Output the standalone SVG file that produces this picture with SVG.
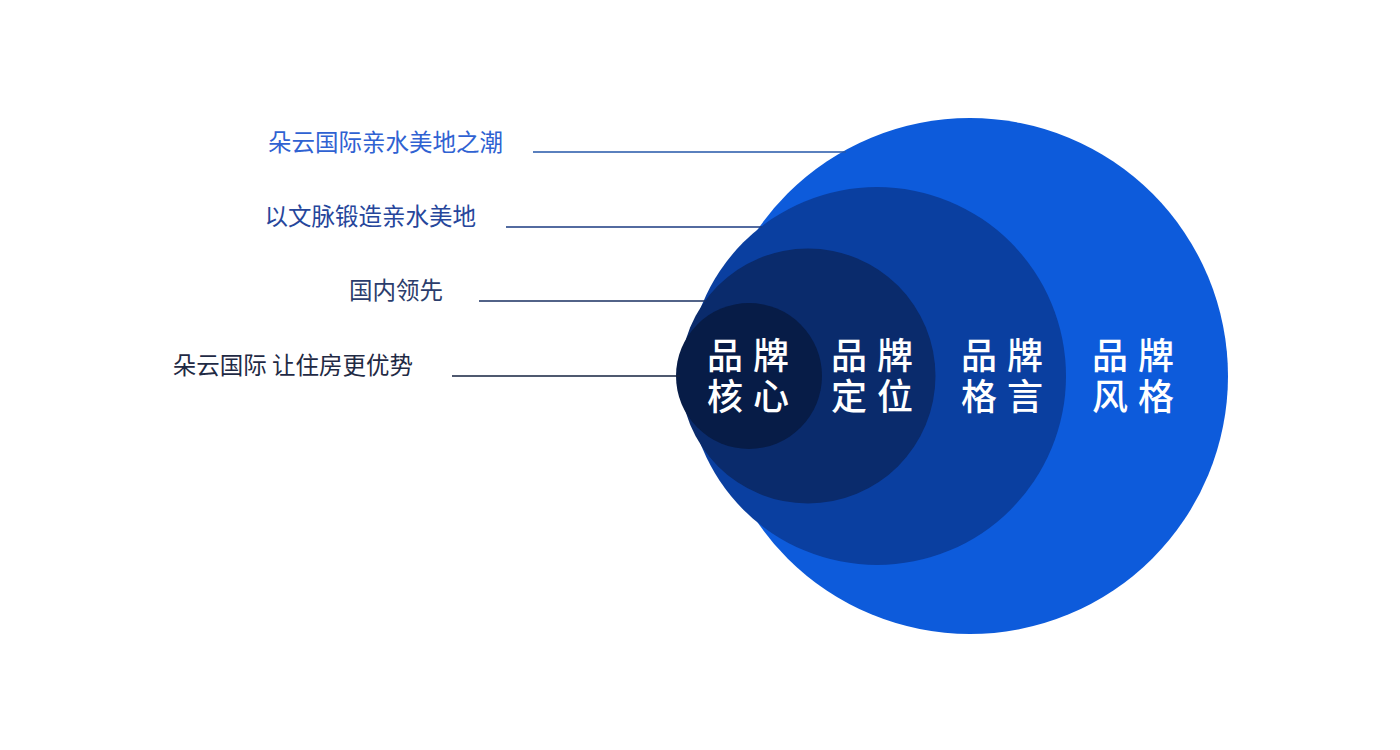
<svg xmlns="http://www.w3.org/2000/svg" width="1400" height="750" viewBox="0 0 1400 750">
<style>
.lbl{font-family:"Noto Sans CJK SC","Noto Sans",sans-serif;font-size:23.5px;text-anchor:end}
.in{font-family:"Noto Sans CJK SC","Noto Sans",sans-serif;font-size:36px;font-weight:500;fill:#ffffff;text-anchor:middle;letter-spacing:10px}
</style>
<rect width="1400" height="750" fill="#ffffff"/>
<g id="circles">
<g id="n-style"><circle cx="970" cy="376" r="258" fill="#0d5bdb"/></g>
<g id="n-slogan"><circle cx="877" cy="376" r="189" fill="#0a3fa0"/></g>
<g id="n-position"><circle cx="808" cy="376" r="127.5" fill="#0a2b6c"/></g>
<g id="n-core"><circle cx="749" cy="376" r="73" fill="#071c47"/></g>
</g>
<g id="connectors" stroke-width="1.4">
<line x1="533" y1="152" x2="846" y2="152" stroke="#2356a8"/>
<line x1="506" y1="227" x2="762" y2="227" stroke="#1a3a80"/>
<line x1="479" y1="301" x2="706" y2="301" stroke="#182f60"/>
<line x1="452" y1="376" x2="680" y2="376" stroke="#14223f"/>
</g>
<g id="labels">
<text class="lbl" x="503" y="151" fill="#2f62d2">朵云国际亲水美地之潮</text>
<text class="lbl" x="476" y="225" fill="#26469b">以文脉锻造亲水美地</text>
<text class="lbl" x="443" y="299" fill="#2b3d6c">国内领先</text>
<text class="lbl" x="413" y="374" fill="#1f2a44">朵云国际 让住房更优势</text>
</g>
<g id="inner-text">
<text class="in" x="753" y="369">品牌</text><text class="in" x="753" y="410">核心</text>
<text class="in" x="877" y="369">品牌</text><text class="in" x="877" y="410">定位</text>
<text class="in" x="1007" y="369">品牌</text><text class="in" x="1007" y="410">格言</text>
<text class="in" x="1138" y="369">品牌</text><text class="in" x="1138" y="410">风格</text>
</g>
</svg>
